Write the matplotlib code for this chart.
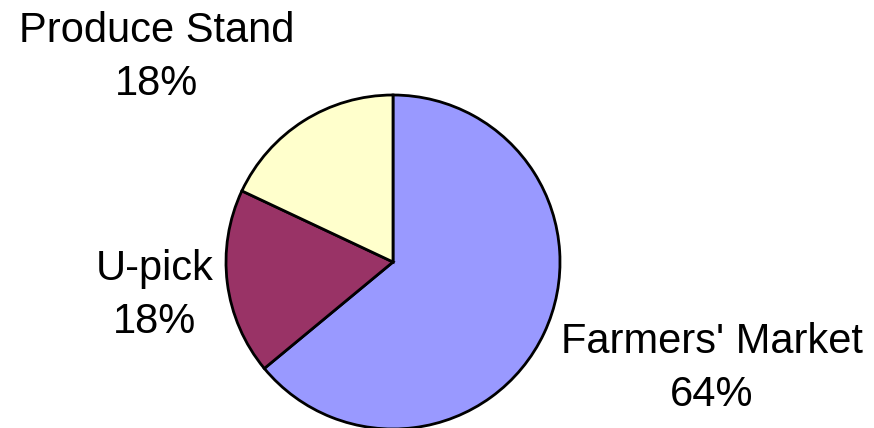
import matplotlib
matplotlib.use("Agg")
import matplotlib.pyplot as plt

categories = ["Farmers' Market", "U-pick", "Produce Stand"]
shares = [64, 18, 18]
colors = ["#9999FF", "#993366", "#FFFFCC"]

# label anchor (x, first-line baseline) in pixel coords from the top-left
label_pos = [(712, 353), (155, 280), (157, 42)]


def main():
    W, H = 874, 428
    fig = plt.figure(figsize=(W / 100, H / 100), dpi=100)
    ax = fig.add_axes([0, 0, 1, 1])

    ax.pie(shares, colors=colors, startangle=90, counterclock=False,
           center=(393, H - 262), radius=167,
           wedgeprops=dict(edgecolor="black", linewidth=2))
    ax.set_xlim(0, W)
    ax.set_ylim(0, H)
    ax.set_aspect("equal")
    ax.axis("off")

    total = sum(shares)
    for name, val, (x, y) in zip(categories, shares, label_pos):
        ax.text(x, H - y, name, ha="center", va="baseline",
                fontsize=30, family="Liberation Sans")
        ax.text(x, H - y - 53, "%d%%" % round(100.0 * val / total),
                ha="center", va="baseline",
                fontsize=30, family="Liberation Sans")

    fig.savefig("out.png", dpi=100)


if __name__ == "__main__":
    main()
